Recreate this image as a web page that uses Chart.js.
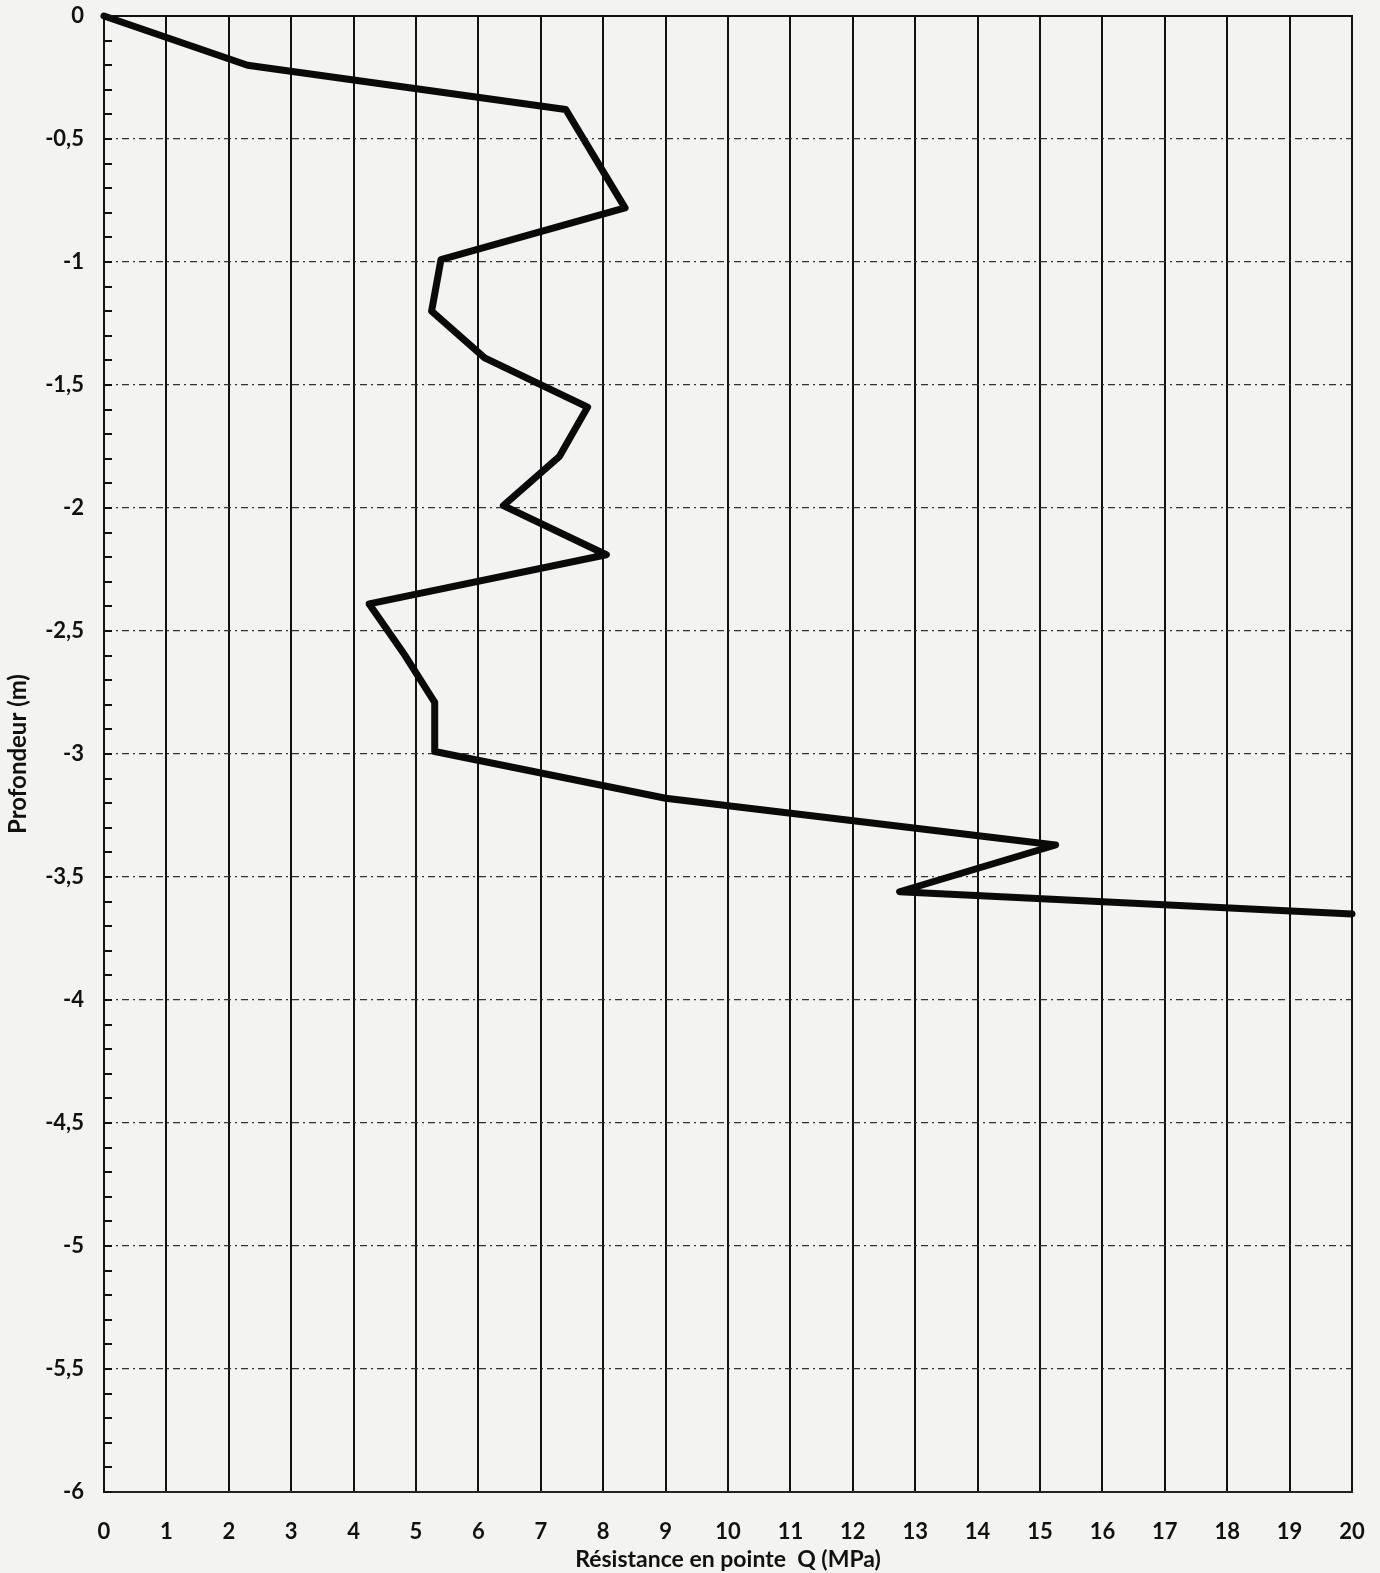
<!DOCTYPE html>
<html><head><meta charset="utf-8">
<script src="https://cdn.jsdelivr.net/npm/chart.js@4/dist/chart.umd.min.js"></script>
<style>html,body{margin:0;padding:0;background:#f3f3f1;}#c{display:block;}</style>
</head><body>
<canvas id="c" width="1380" height="1573"></canvas>
<script>
// Data
const resistance = [0, 2.3, 7.4, 8.35, 5.4, 5.25, 6.1, 7.75, 7.3, 6.4, 8.05, 4.25, 4.8, 5.3, 5.3, 9.0, 15.25, 12.75, 20];
const depth      = [0, -0.2, -0.38, -0.78, -0.99, -1.2, -1.39, -1.59, -1.79, -1.99, -2.19, -2.39, -2.59, -2.79, -2.99, -3.18, -3.37, -3.56, -3.65];
const xTicks = [0,1,2,3,4,5,6,7,8,9,10,11,12,13,14,15,16,17,18,19,20];
const yTicks = [0,-0.5,-1,-1.5,-2,-2.5,-3,-3.5,-4,-4.5,-5,-5.5,-6];
const yMinorStep = 0.1;
const xTitle = 'Résistance en pointe  Q (MPa)';
const yTitle = 'Profondeur (m)';

const points = resistance.map((v,i)=>({x:v,y:depth[i]}));
const FONT = 'Lato, "Open Sans", sans-serif';

const bgPlugin = {
  id:'bg',
  beforeDraw(chart){
    const ctx=chart.ctx; ctx.save(); ctx.fillStyle='#f3f3f1';
    ctx.fillRect(0,0,chart.width,chart.height); ctx.restore();
  }
};
const minorTicks = {
  id:'minorTicks',
  afterDatasetsDraw(chart){
    const y=chart.scales.y, ctx=chart.ctx, left=chart.chartArea.left;
    ctx.save(); ctx.strokeStyle='#111'; ctx.lineWidth=2;
    const n=Math.round((y.max-y.min)/yMinorStep);
    for(let i=0;i<=n;i++){
      const v=y.min+i*yMinorStep;
      const p=Math.round(y.getPixelForValue(v));
      ctx.beginPath(); ctx.moveTo(left,p); ctx.lineTo(left+8,p); ctx.stroke();
    }
    ctx.restore();
  }
};

new Chart(document.getElementById('c'),{
  type:'scatter',
  data:{datasets:[{
    data:points, showLine:true, borderColor:'#0a0a0a', borderWidth:7,
    pointRadius:0, pointHoverRadius:0, tension:0, fill:false,
    borderJoinStyle:'round', borderCapStyle:'round', clip:4
  }]},
  options:{
    responsive:false, animation:false, devicePixelRatio:1,
    layout:{padding:{left:0,top:16,right:28,bottom:0}},
    plugins:{legend:{display:false},tooltip:{enabled:false}},
    scales:{
      x:{
        type:'linear', position:'bottom', min:0, max:20,
        afterBuildTicks(s){ s.ticks = xTicks.map(v=>({value:v})); },
        afterFit(s){ s.height=81; s.paddingLeft=0; s.paddingRight=0; },
        ticks:{color:'#111', font:{family:FONT, size:22, weight:'bold'}, padding:27, maxRotation:0, autoSkip:false},
        grid:{color:'#111', lineWidth:2, drawTicks:false},
        border:{display:true, color:'#222', width:2},
        title:{display:true, text:xTitle, color:'#111', font:{family:FONT, size:23, weight:'bold'}, padding:{top:0,bottom:0}}
      },
      x2:{
        type:'linear', position:'top', min:0, max:20,
        afterFit(s){ s.height=0; s.paddingLeft=0; s.paddingRight=0; },
        ticks:{display:false}, grid:{display:false, drawTicks:false},
        border:{display:true, color:'#111', width:2}
      },
      y:{
        type:'linear', position:'left', min:-6, max:0,
        afterBuildTicks(s){ s.ticks = yTicks.map(v=>({value:v})); },
        afterFit(s){ s.width=104; s.paddingTop=0; s.paddingBottom=0; },
        ticks:{color:'#111', font:{family:FONT, size:22, weight:'bold'}, padding:20, autoSkip:false,
          callback:(v)=>String(v).replace('.',',')},
        grid:{color:'#333', lineWidth:1.3, drawTicks:false},
        border:{display:true, color:'#111', width:2, dash:[7,4,2,4]},
        title:{display:true, text:yTitle, color:'#111', font:{family:FONT, size:24, weight:'bold'}, padding:{top:4,bottom:0}}
      }
    }
  },
  plugins:[bgPlugin, minorTicks]
});
</script>
</body></html>
